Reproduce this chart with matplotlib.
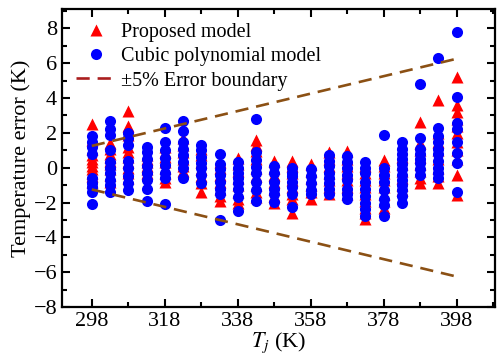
import matplotlib
matplotlib.use('Agg')
import matplotlib.pyplot as plt
from matplotlib.lines import Line2D
import numpy as np

# Junction temperatures (K)
tj = [298, 303, 308, 313, 318, 323, 328, 333, 338, 343, 348,
      353, 358, 363, 368, 373, 378, 383, 388, 393, 398]

# Temperature errors (K), one list per junction temperature
proposed = [
    [2.5, 1.6, 1.1, 0.7, 0.5, 0.3, 0.1, -0.1, -0.3, -0.5, -0.8],
    [1.4, 1.1, 0.8, 0.6, 0.4, 0.2, -0.1, -0.4, -0.8],
    [3.25, 2.4, 1.9, 1.2, 0.9, 0.6, 0.3, 0.0, -0.3, -0.6],
    [0.7, 0.5, 0.3, 0.1, -0.1, -0.3],
    [1.2, 0.9, 0.6, 0.3, 0.0, -0.3, -0.6, -0.8],
    [1.7, 1.3, 0.9, 0.5, 0.1, -0.2],
    [1.1, 0.7, 0.3, -0.1, -0.5, -0.9, -1.4],
    [0.3, 0.0, -0.4, -0.8, -1.2, -1.6, -1.9],
    [0.55, 0.2, -0.2, -0.6, -1.0, -1.4, -1.8, -2.0],
    [1.6, 1.3, 0.95, 0.5, 0.0, -0.5, -1.0, -1.4, -1.7],
    [0.4, 0.0, -0.4, -0.8, -1.2, -1.6, -2.0],
    [0.4, 0.1, -0.3, -0.7, -1.1, -1.5, -1.8, -2.6],
    [0.2, -0.2, -0.6, -1.0, -1.4, -1.8],
    [0.9, 0.5, 0.1, -0.3, -0.7, -1.1, -1.5],
    [0.95, 0.5, 0.1, -0.3, -0.7, -1.1, -1.5],
    [0.1, -0.3, -0.7, -1.1, -1.5, -1.9, -2.3, -2.6, -2.95],
    [0.45, 0.1, -0.3, -0.7, -1.1, -1.5, -1.9, -2.3],
    [0.6, 0.2, -0.2, -0.6, -1.0, -1.3],
    [2.6, 1.4, 1.0, 0.6, 0.2, -0.2, -0.6, -0.9],
    [3.9, 2.0, 1.5, 1.0, 0.5, 0.0, -0.5, -0.9],
    [5.2, 3.6, 3.2, 2.8, 2.4, 2.0, 1.5, 1.0, 0.5, -0.4, -1.55],
]

cubic = [
    [1.8, 1.5, 1.2, 0.8, -0.6, -0.9, -1.1, -1.4, -2.1],
    [2.7, 2.2, 1.9, 1.0, 0.3, 0.0, -0.3, -0.7, -1.0, -1.4],
    [2.0, 1.7, 1.3, 0.4, 0.0, -0.5, -0.9, -1.3],
    [1.2, 0.9, 0.5, 0.1, -0.3, -0.7, -1.2, -1.9],
    [2.3, 1.5, 1.0, 0.55, 0.15, -0.3, -0.6, -2.1],
    [2.7, 2.1, 1.5, 1.1, 0.7, 0.35, 0.0, -0.6],
    [1.3, 1.0, 0.6, 0.25, 0.0, -0.4, -0.9],
    [0.8, 0.2, -0.1, -0.4, -0.8, -1.2, -1.5, -3.0],
    [0.3, 0.0, -0.3, -0.6, -0.9, -1.2, -1.7, -2.5],
    [2.8, 0.9, 0.45, 0.05, -0.3, -0.8, -1.3, -1.9],
    [0.1, -0.3, -0.8, -1.2, -1.5, -1.95],
    [0.0, -0.3, -0.5, -0.8, -1.1, -1.5, -2.25],
    [-0.1, -0.5, -0.9, -1.3, -1.5],
    [0.75, 0.4, 0.1, -0.3, -0.6, -0.9, -1.2, -1.5],
    [0.65, 0.3, 0.0, -0.4, -0.7, -1.2, -1.5, -1.8],
    [0.35, 0.0, -0.3, -0.8, -1.2, -1.6, -2.0, -2.35, -2.8],
    [1.9, 0.0, -0.4, -0.8, -1.3, -1.8, -2.15, -2.8],
    [1.5, 1.1, 0.8, 0.5, 0.2, -0.1, -0.4, -0.7, -1.0, -1.3, -1.6, -2.05],
    [4.8, 1.7, 1.1, 0.8, 0.5, 0.25, -0.1, -0.4],
    [6.3, 2.3, 1.8, 1.5, 1.1, 0.8, 0.4, 0.0, -0.3, -0.6],
    [7.8, 4.05, 2.55, 2.2, 1.5, 0.85, 0.25, -1.4],
]

# +/-5% error boundary relative to 273 K
bound_t = [298, 398]
bound_pct = 0.05

plt.rcParams['font.family'] = 'Liberation Serif'
plt.rcParams['mathtext.fontset'] = 'stix'

fig = plt.figure(figsize=(4.99, 3.63), dpi=100)
ax = fig.add_axes([0.124, 0.154, 0.868, 0.821])

for t, vals in zip(tj, proposed):
    ax.plot([t] * len(vals), vals, '^', color='red', ms=8, mec='none', zorder=2)
for t, vals in zip(tj, cubic):
    ax.plot([t] * len(vals), vals, 'o', color='blue', ms=8, mec='none', zorder=3)

bt = np.array(bound_t)
ax.plot(bt, bound_pct * (bt - 273), color='#8B5014', lw=1.9, dashes=(5, 3), zorder=4)
ax.plot(bt, -bound_pct * (bt - 273), color='#8B5014', lw=1.9, dashes=(5, 3), zorder=4)

ax.set_xlim(289.8, 408.5)
ax.set_ylim(-8, 9.1)
ax.set_xticks(range(298, 399, 20))
ax.set_xticks(range(308, 409, 20), minor=True)
ax.set_yticks(range(-8, 9, 2))
ax.set_yticks(range(-7, 10, 2), minor=True)
ax.tick_params(which='both', direction='in', top=True, right=True, labelsize=16, width=1.5)
ax.tick_params(which='major', length=6)
ax.tick_params(which='minor', length=3.5)
for s in ax.spines.values():
    s.set_linewidth(1.6)

ax.set_xlabel(r'$T_j$ (K)', fontsize=16, labelpad=0)
ax.set_ylabel('Temperature error (K)', fontsize=16, labelpad=2)

handles = [
    Line2D([], [], ls='none', marker='^', color='red', ms=8, mec='none'),
    Line2D([], [], ls='none', marker='o', color='blue', ms=8, mec='none'),
    Line2D([], [], color='#AA1E1E', lw=1.9, dashes=(5, 3)),
]
labels = ['Proposed model', 'Cubic polynomial model', '\u00b15% Error boundary']
ax.legend(handles, labels, loc='upper left', frameon=False, fontsize=14.5,
          handlelength=1.95, handletextpad=0.3, labelspacing=0.25,
          borderaxespad=0.5, borderpad=0.2)

fig.savefig('out.png', dpi=100)
